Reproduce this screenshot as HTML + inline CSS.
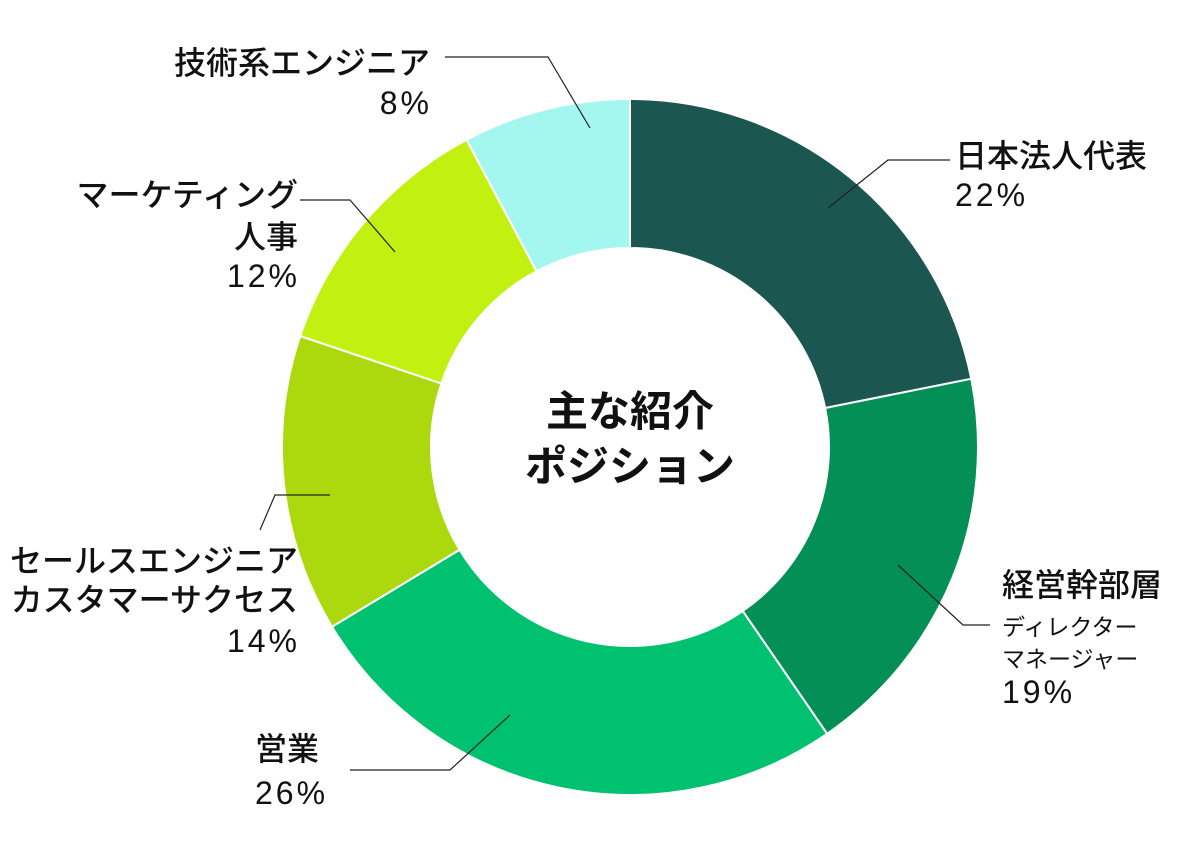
<!DOCTYPE html>
<html><head><meta charset="utf-8"><style>
html,body{margin:0;padding:0;background:#fff;}
svg text{font-family:"Liberation Sans","Noto Sans CJK JP",sans-serif;fill:#111;}
.l{font-size:32px;font-weight:500;}
.p{font-size:32px;letter-spacing:3px;font-weight:300;}
.s{font-size:23px;}
.c{font-size:42px;font-weight:bold;}
</style></head><body>
<svg id="s" width="1202" height="840" viewBox="0 0 1202 840" xmlns="http://www.w3.org/2000/svg">
<g id="pie"></g>
<g fill="none" stroke="#222" stroke-width="1.2">
<polyline points="445,57 548,57 590,128"/>
<polyline points="828,208 888,160 950,160"/>
<polyline points="898,565 963,625 990,625"/>
<polyline points="510,715 450,770 350,770"/>
<polyline points="330,495 275,495 260,530"/>
<polyline points="395,252 350,200 300,200"/>
</g>
<text class="l" x="430" y="74" text-anchor="end">技術系エンジニア</text>
<text class="p" x="432" y="114" text-anchor="end">8%</text>
<text class="l" x="955" y="167">日本法人代表</text>
<text class="p" x="955" y="206">22%</text>
<text class="l" x="1002" y="596">経営幹部層</text>
<text class="s" x="1002" y="635">ディレクター</text>
<text class="s" x="1002" y="667">マネージャー</text>
<text class="p" x="1002" y="703">19%</text>
<text class="l" x="255" y="760">営業</text>
<text class="p" x="255" y="804">26%</text>
<text class="l" x="298" y="572" text-anchor="end">セールスエンジニア</text>
<text class="l" x="298" y="611" text-anchor="end">カスタマーサクセス</text>
<text class="p" x="300" y="652" text-anchor="end">14%</text>
<text class="l" x="298" y="206" text-anchor="end">マーケティング</text>
<text class="l" x="298" y="248" text-anchor="end">人事</text>
<text class="p" x="300" y="287" text-anchor="end">12%</text>
<text class="c" x="630" y="426" text-anchor="middle">主な紹介</text>
<text class="c" x="630" y="481" text-anchor="middle">ポジション</text>
</svg>
<script>
var cx=630,cy=447,R=348,r=199;
var angs=[0,78.7,145.5,238.9,288.6,332,360];
var cols=["#1b5650","#038f55","#00c170","#acd80e","#c2f010","#a3f7ee"];
var h="";
function pt(rad,ang){return (cx+rad*Math.sin(ang)).toFixed(2)+","+(cy-rad*Math.cos(ang)).toFixed(2);}
for(var i=0;i<6;i++){
 var a=angs[i]*Math.PI/180,a1=angs[i+1]*Math.PI/180,la=(a1-a)>Math.PI?1:0;
 h+='<path d="M'+pt(R,a)+' A'+R+','+R+' 0 '+la+' 1 '+pt(R,a1)+' L'+pt(r,a1)+' A'+r+','+r+' 0 '+la+' 0 '+pt(r,a)+' Z" fill="'+cols[i]+'" stroke="#fff" stroke-width="2"/>';
}
document.getElementById("pie").innerHTML=h;
</script>
</body></html>
